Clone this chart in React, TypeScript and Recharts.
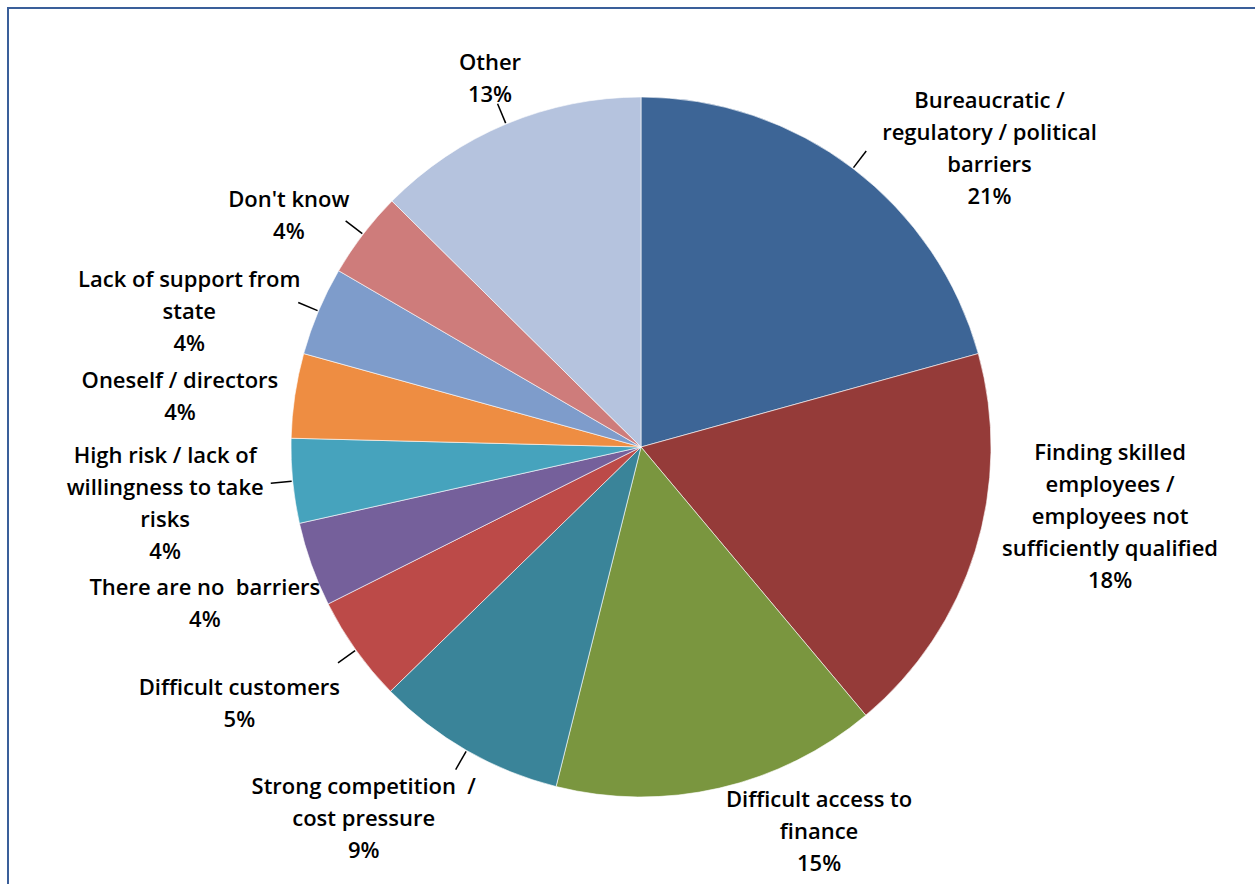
import React from 'react'
import { PieChart, Pie, Cell } from 'recharts'

// barrier categories, clockwise from 12 o'clock
const categories = [
  'Bureaucratic /\nregulatory / political\nbarriers',
  'Finding skilled\nemployees /\nemployees not\nsufficiently qualified',
  'Difficult access to\nfinance',
  'Strong competition  /\ncost pressure',
  'Difficult customers',
  'There are no  barriers',
  'High risk / lack of\nwillingness to take\nrisks',
  'Oneself / directors',
  'Lack of support from\nstate',
  "Don't know",
  'Other',
]
const shares = [20.7, 18.2, 15.0, 8.8, 4.9, 3.9, 3.9, 3.9, 4.1, 4.0, 12.6]
const colors = [
  '#3D6596', '#953B39', '#7A963F', '#3A8499', '#BC4A48', '#75609B',
  '#46A3BD', '#EE8D42', '#7E9CCB', '#CE7C7B', '#B5C3DE',
]

// label layout: angular shift (deg, clockwise) and distance of the text block centre
const labelShift = [12, -9, -12, 7, 3, 0, -1, -2, -6, -4, 0.5]
const labelDist = [460, 474, 422, 462, 476, 463, 479, 464, 472, 422, 400]
const leader = [true, false, false, true, true, false, true, false, true, true, true]

const data = categories.map((name, i) => ({ name, value: shares[i] }))
const total = shares.reduce((a, b) => a + b, 0)

const RAD = Math.PI / 180
const LINE = 32

function renderLabel(props: any) {
  const { cx, cy, midAngle, outerRadius, index, value } = props
  // recharts angle: ccw from 3 o'clock -> clockwise from 12
  const clock = 90 - midAngle
  const a = (clock + labelShift[index]) * RAD
  const lx = cx + labelDist[index] * Math.sin(a)
  const ly = cy - labelDist[index] * Math.cos(a)
  const lines = [...categories[index].split('\n'), `${Math.round((value / total) * 100)}%`]
  const n = lines.length

  const m = clock * RAD
  const x1 = cx + (outerRadius + 1) * Math.sin(m)
  const y1 = cy - (outerRadius + 1) * Math.cos(m)
  const x2 = cx + (outerRadius + 22) * Math.sin(m)
  const y2 = cy - (outerRadius + 22) * Math.cos(m)

  return (
    <g key={`lbl-${index}`}>
      {leader[index] && <line x1={x1} y1={y1} x2={x2} y2={y2} stroke="#000" strokeWidth={1.5} />}
      <text textAnchor="middle" fill="#000" fontSize={22} fontWeight={600}
        fontFamily="'Open Sans', sans-serif" style={{ whiteSpace: 'pre' }}>
        {lines.map((t, i) => (
          <tspan key={i} x={lx} y={ly + (i - (n - 1) / 2) * LINE} dominantBaseline="central">{t}</tspan>
        ))}
      </text>
    </g>
  )
}

export default function App() {
  return (
    <div style={{ position: 'fixed', left: 0, top: 0, width: 1255, height: 884, background: '#fff', overflow: 'hidden' }}>
      {/* frame, only top and left edge visible in the crop */}
      <div style={{
        position: 'absolute', left: 7, top: 7, width: 1400, height: 1000,
        borderTop: '2.5px solid #3A5F9A', borderLeft: '2.5px solid #3A5F9A',
      }} />
      <div style={{ position: 'absolute', left: 0, top: 0 }}>
        <PieChart width={1255} height={884} margin={{ top: 0, right: 0, bottom: 0, left: 0 }}>
          <Pie
            data={data}
            dataKey="value"
            nameKey="name"
            cx={641}
            cy={447}
            outerRadius={350}
            startAngle={90}
            endAngle={-270}
            stroke="#ffffff"
            strokeWidth={1}
            strokeOpacity={0.6}
            label={renderLabel}
            labelLine={false}
            isAnimationActive={false}
          >
            {data.map((d, i) => <Cell key={d.name} fill={colors[i]} />)}
          </Pie>
        </PieChart>
      </div>
    </div>
  )
}
